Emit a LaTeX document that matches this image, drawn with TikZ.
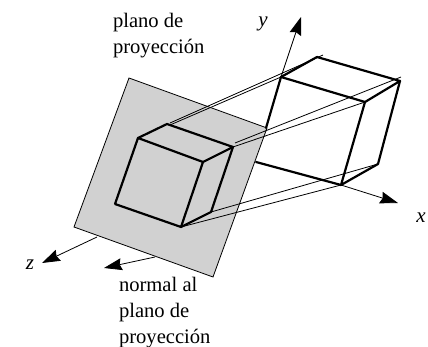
\documentclass[tikz,border=0pt]{standalone}
\usepackage{fontspec}
\setmainfont{Liberation Serif}
\usetikzlibrary{arrows.meta}
\definecolor{PlaneGray}{RGB}{209,209,209}
\tikzset{
  plane/.style={draw=black,fill=PlaneGray,line width=0.8pt},
  edge/.style={draw=black,line width=2.2pt,line cap=round,line join=round},
  ray/.style={draw=black,line width=0.8pt},
  axis/.style={draw=black,line width=0.8pt,-{Stealth[length=18pt,width=12pt,inset=2pt]}},
  lbl/.style={inner sep=0pt,outer sep=0pt,anchor=north west,align=left,
    font=\fontsize{20.6}{26}\selectfont},
  axlbl/.style={inner sep=0pt,outer sep=0pt,font=\fontsize{21}{26}\selectfont\itshape},
}

\begin{document}
\begin{tikzpicture}[x=1pt,y=-1pt]
\useasboundingbox (0,0) rectangle (428,347);
% plane
\coordinate (pa) at (129,78);
\coordinate (pb) at (267,128);
\coordinate (pc) at (213,277);
\coordinate (pd) at (74,227);
% small box
\coordinate (s1) at (138,138);
\coordinate (s2) at (203,162);
\coordinate (s3) at (181,227);
\coordinate (s4) at (115,204);
\coordinate (s5) at (167,124);
\coordinate (s6) at (233,147);
\coordinate (s7) at (211,212);
% large box
\coordinate (b1) at (281,77);
\coordinate (b2) at (365,102);
\coordinate (b3) at (341,185);
\coordinate (b4) at (256,162);
\coordinate (b5) at (317,57);
\coordinate (b6) at (400,81);
\coordinate (b7) at (378,164);
\coordinate (b8) at (266,128);
% ends of lines
\coordinate (r1) at (170,123);
\coordinate (r2) at (323,55);
\coordinate (r3) at (235,143);
\coordinate (r4) at (401,77);
\coordinate (ytip) at (301,17);
\coordinate (xtip) at (398,203);
\coordinate (zbase) at (97,237);
\coordinate (ztip) at (42,263);
\coordinate (nbase) at (155,257);
\coordinate (ntip) at (104,268);

\draw[plane] (pa) -- (pb) -- (pc) -- (pd) -- cycle;
\draw[ray] (r1) -- (r2);
\draw[ray] (s5) ++(3,1) -- (b1);
\draw[ray] (r3) -- (r4);
\draw[ray] (s6) -- (b2);
\draw[ray] (s7) -- (b7);
\draw[ray] (s3) -- (b3);
\draw[axis] (b1) -- (ytip);
\draw[axis] (b3) -- (xtip);
\draw[axis] (zbase) -- (ztip);
\draw[axis] (nbase) -- (ntip);
% small box edges
\draw[edge] (s1) -- (s2) -- (s3) -- (s4) -- cycle;
\draw[edge] (s1) -- (s5) -- (s6) -- (s2);
\draw[edge] (s6) -- (s7) -- (s3);
% large box edges
\draw[edge] (b8) -- (b1) -- (b2) -- (b3) -- (b4);
\draw[edge] (b1) -- (b5) -- (b6) -- (b2);
\draw[edge] (b6) -- (b7) -- (b3);

\node[lbl] (planelbl) at (113,13) {plano de\\proyección};
\node[lbl] (normallbl) at (119,277) {normal al\\plano de\\proyección};
\node[axlbl] (ylbl) at (263,24) {y};
\node[axlbl] (xlbl) at (421,218) {x};
\node[axlbl] (zlbl) at (30,265) {z};
\end{tikzpicture}
\end{document}
